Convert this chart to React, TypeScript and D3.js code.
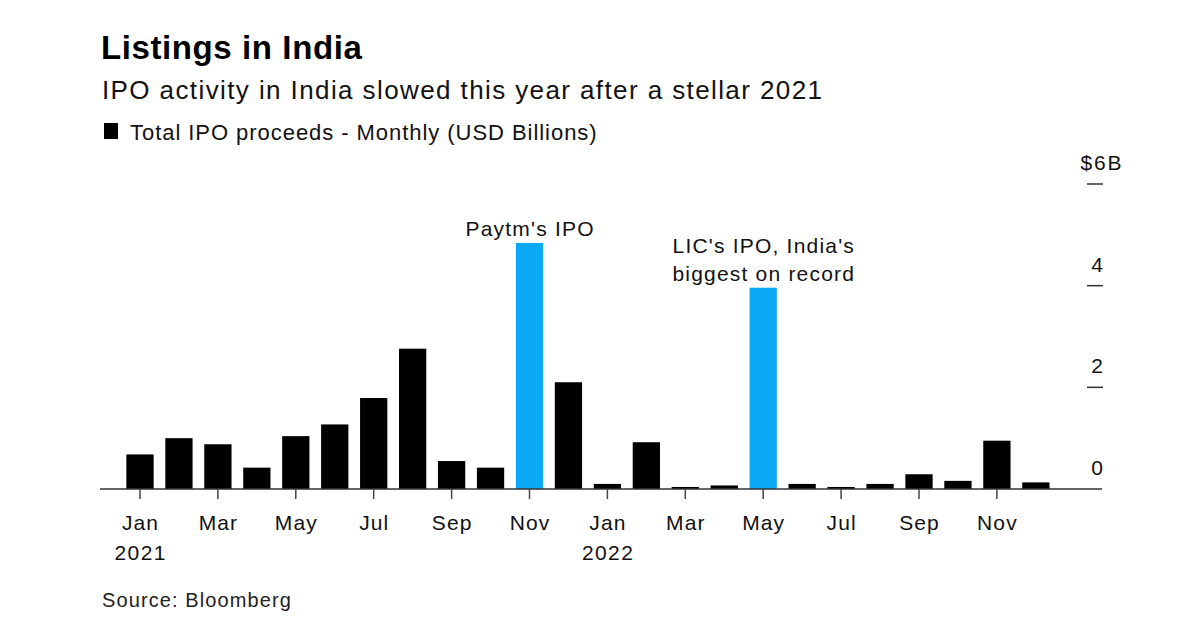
import React from "react";
import * as d3 from "d3";

const months = [
  "2021-01","2021-02","2021-03","2021-04","2021-05","2021-06","2021-07","2021-08","2021-09","2021-10","2021-11","2021-12",
  "2022-01","2022-02","2022-03","2022-04","2022-05","2022-06","2022-07","2022-08","2022-09","2022-10","2022-11","2022-12",
];
const proceeds = [
  0.68, 1.0, 0.88, 0.42, 1.04, 1.27, 1.79, 2.76, 0.55, 0.42, 4.84, 2.1,
  0.1, 0.92, 0.04, 0.07, 3.96, 0.1, 0.04, 0.1, 0.29, 0.16, 0.95, 0.13,
];
const highlighted = ["2021-11", "2022-05"];
const xTickMonths = ["2021-01","2021-03","2021-05","2021-07","2021-09","2021-11","2022-01","2022-03","2022-05","2022-07","2022-09","2022-11"];
const xTickLabels = ["Jan","Mar","May","Jul","Sep","Nov","Jan","Mar","May","Jul","Sep","Nov"];
const yearLabels = [{ month: "2021-01", label: "2021" }, { month: "2022-01", label: "2022" }];
const yTicks = [0, 2, 4, 6];
const yTickLabels = ["0", "2", "4", "$6B"];
const annotations = [
  { month: "2021-11", lines: ["Paytm's IPO"] },
  { month: "2022-05", lines: ["LIC's IPO, India's", "biggest on record"] },
];

const FONT = "'Liberation Sans', Arial, Helvetica, sans-serif";

export default function App() {
  const W = 1200, H = 638;
  const step = 38.95;
  const x = d3.scaleBand<string>()
    .domain(months)
    .range([140 - step / 2, 140 - step / 2 + step * months.length])
    .paddingInner(0.3)
    .paddingOuter(0.15);
  const y = d3.scaleLinear().domain([0, 6]).range([489, 184]);
  const cx = (m: string) => (x(m) as number) + x.bandwidth() / 2;
  const LS = 1.1;

  return (
    <svg width={W} height={H} style={{ position: "absolute", left: 0, top: 0, background: "#fff" }} fontFamily={FONT}>
      <text x={101} y={59} fontSize={33} fontWeight="bold" fill="#000" letterSpacing={0.6}>Listings in India</text>
      <text x={102} y={99} fontSize={26} fill="#111" letterSpacing={1.4}>IPO activity in India slowed this year after a stellar 2021</text>
      <rect x={104} y={123} width={14} height={16} fill="#000" />
      <text x={130} y={140} fontSize={22} fill="#111" letterSpacing={0.95}>Total IPO proceeds - Monthly (USD Billions)</text>

      {months.map((m, i) => (
        <rect
          key={m}
          x={x(m)}
          y={y(proceeds[i])}
          width={x.bandwidth()}
          height={y(0) - y(proceeds[i])}
          fill={highlighted.includes(m) ? "#0aa8f7" : "#000"}
        />
      ))}

      <line x1={100} x2={1102} y1={y(0)} y2={y(0)} stroke="#333" strokeWidth={1.5} />
      {xTickMonths.map((m, i) => (
        <g key={m}>
          <line x1={cx(m)} x2={cx(m)} y1={y(0)} y2={y(0) + 10} stroke="#444" strokeWidth={1.5} />
          <text x={cx(m) + LS / 2} y={530} fontSize={21} textAnchor="middle" fill="#111" letterSpacing={LS}>{xTickLabels[i]}</text>
        </g>
      ))}
      {yearLabels.map((d) => (
        <text key={d.label} x={cx(d.month) + 0.7} y={560} fontSize={21} textAnchor="middle" fill="#111" letterSpacing={1.4}>{d.label}</text>
      ))}

      {yTicks.map((t, i) => (
        <g key={t}>
          {t !== 0 && <line x1={1087} x2={1103} y1={y(t)} y2={y(t)} stroke="#333" strokeWidth={1.5} />}
          <text
            x={t === 6 ? 1102 : 1097}
            y={y(t) - 14}
            fontSize={21}
            textAnchor="middle"
            fill="#111"
            letterSpacing={t === 6 ? 1.8 : 0}
          >{yTickLabels[i]}</text>
        </g>
      ))}

      {annotations.map((a) => {
        const idx = months.indexOf(a.month);
        const top = y(proceeds[idx]);
        return (
          <g key={a.month}>
            {a.lines.map((ln, j) => (
              <text
                key={j}
                x={cx(a.month) + 0.6}
                y={top - 7 - (a.lines.length - 1 - j) * 28}
                fontSize={21}
                textAnchor="middle"
                fill="#111"
                letterSpacing={1.2}
              >{ln}</text>
            ))}
          </g>
        );
      })}

      <text x={102} y={607} fontSize={20} fill="#222" letterSpacing={1.1}>Source: Bloomberg</text>
    </svg>
  );
}
